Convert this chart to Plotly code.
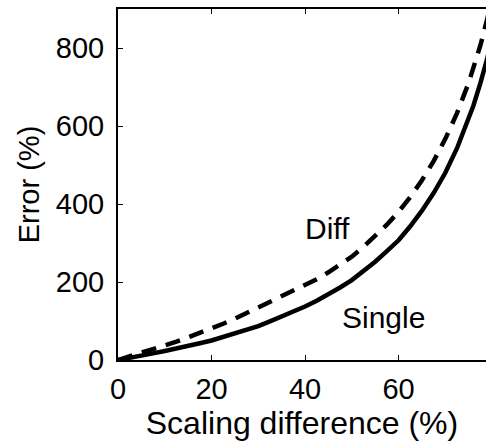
import plotly.graph_objects as go

# Data
scaling_diff = [0, 2.5, 5, 7.5, 10, 12.5, 15, 17.5, 20, 22.5, 25, 27.5, 30, 32.5, 35, 37.5, 40,
                42.5, 45, 47.5, 50, 52.5, 55, 57.5, 60, 62.5, 65, 67.5, 70, 72.5, 75, 76,
                77.5, 78, 79, 80]
error_single = [0, 5, 11, 17, 23, 29, 36, 43, 50, 59, 68, 78, 87, 99, 111, 124, 137,
                152, 168, 186, 205, 228, 252, 279, 307, 343, 383, 428, 480, 543, 618, 652,
                710, 730, 775, 824]
error_diff = [0, 9, 18, 27, 37, 47, 58, 69, 80, 93, 106, 120, 134, 148, 162, 176, 191,
              207, 225, 244, 265, 290, 318, 347, 380, 418, 461, 510, 567, 633, 711, 746,
              807, 829, 874, 924]

x_ticks = [0, 20, 40, 60]
y_ticks = [0, 200, 400, 600, 800]

FONT = "Liberation Sans, Arial, sans-serif"

fig = go.Figure()
fig.add_trace(go.Scatter(x=scaling_diff, y=error_single, mode="lines",
                         line=dict(color="black", width=4.5), name="Single"))
fig.add_trace(go.Scatter(x=scaling_diff, y=error_diff, mode="lines",
                         line=dict(color="black", width=4.5, dash="15px,10px"), name="Diff"))

fig.add_annotation(x=44.9, y=338, text="Diff", showarrow=False, xref="x", yref="y",
                   font=dict(family=FONT, size=30, color="black"))
fig.add_annotation(x=56.7, y=110, text="Single", showarrow=False, xref="x", yref="y",
                   font=dict(family=FONT, size=30, color="black"))

fig.update_layout(
    width=486, height=441,
    margin=dict(l=118, r=0, t=9, b=81),
    paper_bgcolor="white", plot_bgcolor="white",
    showlegend=False,
    font=dict(family=FONT, size=29, color="black"),
    xaxis=dict(range=[0, 78.7], tickvals=x_ticks, ticks="inside", ticklen=5, tickwidth=1,
               tickcolor="black", showline=True, linecolor="black", linewidth=2,
               mirror="ticks", showgrid=False, zeroline=False,
               title=dict(text="Scaling difference (%)", standoff=4,
                          font=dict(family=FONT, size=32)),
               tickfont=dict(family=FONT, size=29), ticklabelstandoff=2),
    yaxis=dict(range=[0, 900], tickvals=y_ticks, ticks="inside", ticklen=5, tickwidth=1,
               tickcolor="black", showline=True, linecolor="black", linewidth=2,
               mirror=False, showgrid=False, zeroline=False,
               title=dict(text="Error (%)", standoff=8,
                          font=dict(family=FONT, size=29)),
               tickfont=dict(family=FONT, size=29), ticklabelstandoff=6),
)

fig.write_html("out.html")
